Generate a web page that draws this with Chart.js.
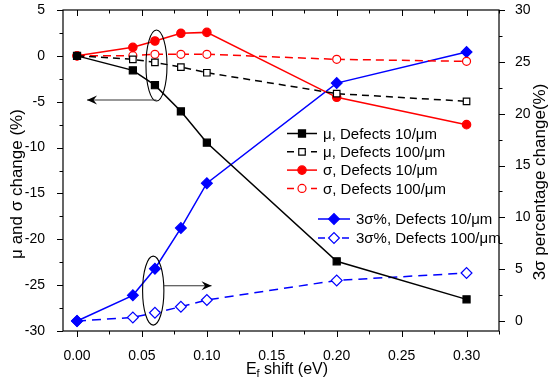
<!DOCTYPE html>
<html>
<head>
<meta charset="utf-8">
<script src="https://cdn.jsdelivr.net/npm/chart.js@4.4.0/dist/chart.umd.min.js"></script>
<style>
  html, body { margin: 0; padding: 0; background: #fff; }
  #wrap { width: 548px; height: 386px; }
</style>
</head>
<body>
<div id="wrap"><canvas id="chart" width="548" height="386"></canvas></div>
<script>
// Fermi level shift (eV)
const efShift = [0, 0.043, 0.06, 0.08, 0.10, 0.20, 0.30];

// left axis: mu and sigma change (%)
const mu10 = [0, -1.58, -3.2, -6.05, -9.47, -22.4, -26.55];
const mu100 = [0, -0.38, -0.71, -1.22, -1.84, -4.12, -4.96];
const sigma10 = [0, 0.93, 1.62, 2.46, 2.56, -4.52, -7.5];
const sigma100 = [0, 0.02, 0.17, 0.17, 0.17, -0.38, -0.6];

// right axis: 3 sigma percentage change (%)
const threeSigma10 = [0, 2.48, 5.05, 8.97, 13.3, 22.95, 25.94];
const threeSigma100 = [0, 0.35, 0.8, 1.38, 2.03, 3.92, 4.63];

const xTicks = [0, 0.05, 0.10, 0.15, 0.20, 0.25, 0.30];
const yTicks = [5, 0, -5, -10, -15, -20, -25, -30];
const y2Ticks = [0, 5, 10, 15, 20, 25, 30];

// ellipses (center x, center y on left axis, radius x, radius y) and arrows
const ellipses = [[0.0612, -1.05, 0.0081, 3.87], [0.0587, -25.6, 0.0082, 3.76]];
const arrows = [[0.0612, -4.81, 0.0077, -4.81], [0.0669, -25.07, 0.1036, -25.07]];

const FONT = "'Liberation Sans', Arial, sans-serif";

function pts(ys) {
  return efShift.map((x, i) => ({ x: x, y: ys[i] }));
}

const series = [
  { label: "\u03bc, Defects 10/\u03bcm", data: mu10, color: "#000000", dash: [], style: "rect", fill: true, r: 5, axis: "y" },
  { label: "\u03bc, Defects 100/\u03bcm", data: mu100, color: "#000000", dash: [7, 5], style: "rect", fill: false, r: 4.6, axis: "y" },
  { label: "\u03c3, Defects 10/\u03bcm", data: sigma10, color: "#ff0000", dash: [], style: "circle", fill: true, r: 4.2, axis: "y" },
  { label: "\u03c3, Defects 100/\u03bcm", data: sigma100, color: "#ff0000", dash: [8, 5], style: "circle", fill: false, r: 4, axis: "y" },
  { label: "3\u03c3%, Defects 10/\u03bcm", data: threeSigma10, color: "#0000ff", dash: [], style: "rectRot", fill: true, r: 5.4, axis: "y2" },
  { label: "3\u03c3%, Defects 100/\u03bcm", data: threeSigma100, color: "#0000ff", dash: [9, 6], style: "rectRot", fill: false, r: 5.4, axis: "y2" }
];

const datasets = series.map(s => ({
  label: s.label,
  data: pts(s.data),
  yAxisID: s.axis,
  borderColor: s.color,
  backgroundColor: s.fill ? s.color : "#ffffff",
  borderWidth: 1.5,
  borderDash: s.dash,
  pointStyle: s.style,
  pointRadius: s.r,
  pointBorderWidth: 1.2,
  pointBorderColor: s.color,
  pointBackgroundColor: s.fill ? s.color : "#ffffff",
  tension: 0,
  fill: false
}));

// legend boxes: [first series index, count, sample x0, sample x1, text x, first row y, row step]
const legendBoxes = [[0, 4, 287, 317, 323, 133.5, 18.3], [4, 2, 318, 350, 356, 219, 19]];

const decor = {
  id: "decor",
  afterDatasetsDraw(chart) {
    const ctx = chart.ctx;
    const a = chart.chartArea;
    const sx = chart.scales.x, sy = chart.scales.y, sy2 = chart.scales.y2;
    ctx.save();
    ctx.strokeStyle = "#000";
    ctx.lineWidth = 1.2;
    ctx.setLineDash([]);
    ctx.strokeRect(a.left, a.top, a.right - a.left, a.bottom - a.top);

    // ticks (major 6px, minor 3.5px)
    ctx.lineWidth = 1;
    ctx.beginPath();
    for (let v = 0; v <= 0.3251; v += 0.025) {
      const px = Math.round(sx.getPixelForValue(v)) + 0.5;
      const major = Math.abs(v / 0.05 - Math.round(v / 0.05)) < 1e-6;
      const len = major ? 6 : 3.5;
      ctx.moveTo(px, a.bottom); ctx.lineTo(px, a.bottom + len);
      ctx.moveTo(px, a.top); ctx.lineTo(px, a.top + len);
    }
    for (let v = -30; v <= 5.01; v += 2.5) {
      const py = Math.round(sy.getPixelForValue(v)) + 0.5;
      const major = Math.abs(v / 5 - Math.round(v / 5)) < 1e-6;
      ctx.moveTo(a.left, py); ctx.lineTo(a.left - (major ? 6 : 3.5), py);
    }
    for (let v = 0; v <= 30.01; v += 2.5) {
      const py = Math.round(sy2.getPixelForValue(v)) + 0.5;
      const major = Math.abs(v / 5 - Math.round(v / 5)) < 1e-6;
      ctx.moveTo(a.right, py); ctx.lineTo(a.right + (major ? 6 : 3.5), py);
    }
    ctx.stroke();

    // ellipses
    ctx.lineWidth = 1.1;
    ellipses.forEach(e => {
      const cx = sx.getPixelForValue(e[0]), cy = sy.getPixelForValue(e[1]);
      const rx = sx.getPixelForValue(e[0] + e[2]) - cx;
      const ry = cy - sy.getPixelForValue(e[1] + e[3]);
      ctx.beginPath();
      ctx.ellipse(cx, cy, rx, ry, 0, 0, Math.PI * 2);
      ctx.stroke();
    });

    // arrows
    ctx.strokeStyle = "#333";
    ctx.lineWidth = 1.1;
    arrows.forEach(r => {
      const x0 = sx.getPixelForValue(r[0]), y0 = sy.getPixelForValue(r[1]);
      const x1 = sx.getPixelForValue(r[2]), y1 = sy.getPixelForValue(r[3]);
      const dir = x1 > x0 ? 1 : -1;
      ctx.beginPath();
      ctx.moveTo(x0, y0); ctx.lineTo(x1, y1);
      ctx.stroke();
      ctx.fillStyle = "#000";
      ctx.beginPath();
      ctx.moveTo(x1, y1);
      ctx.lineTo(x1 - dir * 10, y1 - 4.5);
      ctx.lineTo(x1 - dir * 6.5, y1);
      ctx.lineTo(x1 - dir * 10, y1 + 4.5);
      ctx.closePath();
      ctx.fill();
    });

    // legends
    ctx.font = "15px " + FONT;
    ctx.textBaseline = "middle";
    ctx.textAlign = "left";
    legendBoxes.forEach(b => {
      for (let k = 0; k < b[1]; k++) {
        const s = series[b[0] + k];
        const y = b[5] + k * b[6];
        ctx.strokeStyle = s.color;
        ctx.lineWidth = 1.5;
        ctx.setLineDash(s.dash.length ? [7, 5] : []);
        ctx.beginPath();
        ctx.moveTo(b[2], y); ctx.lineTo(b[3], y);
        ctx.stroke();
        ctx.setLineDash([]);
        ctx.fillStyle = s.fill ? s.color : "#fff";
        ctx.lineWidth = 1.2;
        Chart.helpers.drawPoint(ctx, { pointStyle: s.style, radius: s.r, rotation: 0, borderWidth: 1.2 }, (b[2] + b[3]) / 2, y);
        ctx.fillStyle = "#000";
        ctx.fillText(s.label, b[4], y + 1);
      }
    });

    // axis titles
    ctx.fillStyle = "#000";
    ctx.textBaseline = "alphabetic";
    ctx.font = "16px " + FONT;
    const t1 = "E", t2 = "f", t3 = " shift (eV)";
    const w1 = ctx.measureText(t1).width, w3 = ctx.measureText(t3).width;
    ctx.font = "11px " + FONT;
    const w2 = ctx.measureText(t2).width;
    let x = 287 - (w1 + w2 + w3) / 2;
    ctx.font = "16px " + FONT;
    ctx.fillText(t1, x, 374);
    ctx.font = "11px " + FONT;
    ctx.fillText(t2, x + w1, 377);
    ctx.font = "16px " + FONT;
    ctx.fillText(t3, x + w1 + w2, 374);

    ctx.textAlign = "center";
    ctx.save();
    ctx.translate(22, 184);
    ctx.rotate(-Math.PI / 2);
    ctx.font = "17px " + FONT;
    ctx.fillText("\u03bc and \u03c3 change (%)", 0, 0);
    ctx.restore();
    ctx.save();
    ctx.translate(545, 182);
    ctx.rotate(-Math.PI / 2);
    ctx.font = "17px " + FONT;
    ctx.fillText("3\u03c3 percentage change(%)", 0, 0);
    ctx.restore();
    ctx.restore();
  }
};

const tickFont = { family: FONT, size: 14 };

function noPad(s) {
  s.paddingTop = 0;
  s.paddingBottom = 0;
}

new Chart(document.getElementById("chart").getContext("2d"), {
  type: "line",
  data: { datasets: datasets },
  options: {
    responsive: false,
    animation: false,
    layout: { padding: { top: 10, left: 0, right: 0, bottom: 0 } },
    plugins: { legend: { display: false }, tooltip: { enabled: false } },
    scales: {
      x: {
        type: "linear",
        min: -0.0108,
        max: 0.325,
        afterBuildTicks: s => { s.ticks = xTicks.map(v => ({ value: v })); },
        afterFit: s => { s.height = 55; s.paddingLeft = 0; s.paddingRight = 0; },
        grid: { display: false },
        border: { display: false },
        ticks: { font: tickFont, color: "#000", padding: 9, maxRotation: 0, callback: v => v.toFixed(2) }
      },
      y: {
        position: "left",
        min: -30,
        max: 5,
        afterBuildTicks: s => { s.ticks = yTicks.map(v => ({ value: v })); },
        afterFit: s => { s.width = 63; noPad(s); },
        grid: { display: false },
        border: { display: false },
        ticks: { font: tickFont, color: "#000", padding: 10 }
      },
      y2: {
        position: "right",
        min: -0.96,
        max: 30,
        afterBuildTicks: s => { s.ticks = y2Ticks.map(v => ({ value: v })); },
        afterFit: s => { s.width = 49; noPad(s); },
        grid: { display: false },
        border: { display: false },
        ticks: { font: tickFont, color: "#000", padding: 8 }
      }
    }
  },
  plugins: [decor]
});
</script>
</body>
</html>
